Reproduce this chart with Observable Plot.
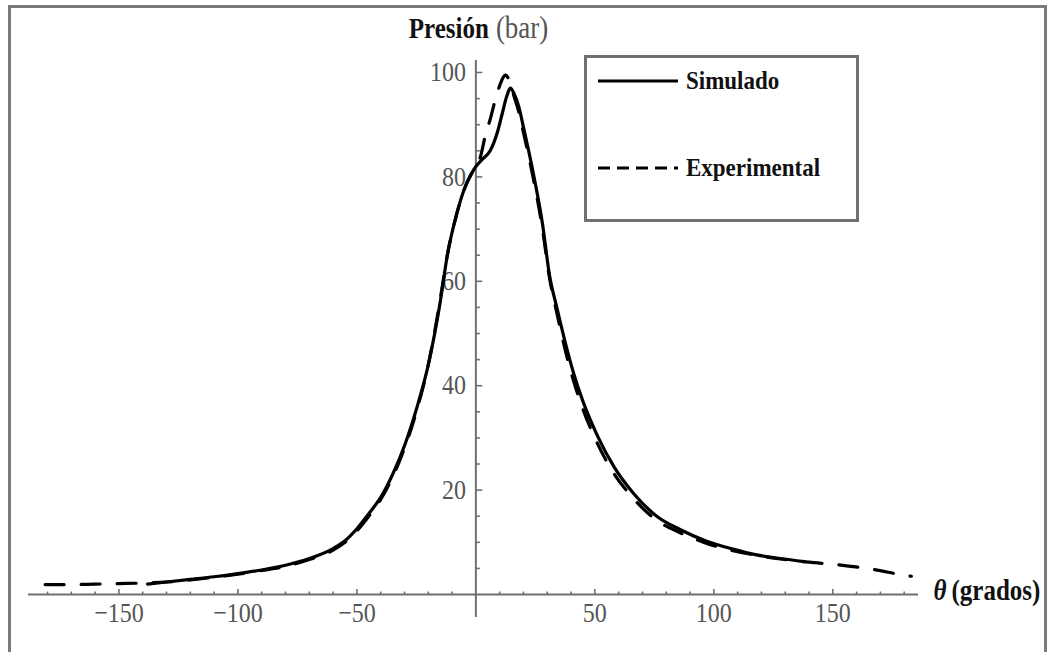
<!DOCTYPE html>
<html><head><meta charset="utf-8">
<script src="https://cdn.jsdelivr.net/npm/d3@7"></script>
<script src="https://cdn.jsdelivr.net/npm/@observablehq/plot@0.6"></script>
<style>
body{margin:0;width:1048px;height:652px;overflow:hidden;background:#fff;position:relative;font-family:"Liberation Serif",serif}
#chart{position:absolute;left:0;top:0}
#frame{position:absolute;left:8px;top:5px;width:1033px;height:700px;border:3px solid #7b7b7b;border-bottom:none;pointer-events:none}
#legend{position:absolute;left:584px;top:55px}
</style></head><body>
<div id="chart"></div>
<div id="frame"></div>
<svg id="legend" width="280" height="170"></svg>
<script>
// Simulado (solid)
const simX = [-138,-130,-120,-110,-100,-90,-80,-70,-60,-55,-50,-45,-40,-35,-30,-25,-20,-15,-12,-8,-5,-2,0,3,6,9,11,13,14.5,16,18,20,24,28,31,34,38,41,45,51,58,66,76,86,97,108,118,128,138];
const simY = [2.0,2.4,2.9,3.4,4.0,4.7,5.6,6.9,8.8,10.3,12.6,15.5,18.6,23,28.5,35.5,44,56,65,73,77.5,80.5,82,83.5,85,88.5,92,95.5,97,96,93.5,89.5,81,71,61,55,47.5,42.5,37,30.5,24.5,19.5,15,12.4,10.2,8.7,7.6,6.9,6.3];
// Experimental (dashed)
const expX = [-181,-170,-160,-150,-140,-130,-120,-110,-100,-90,-80,-70,-60,-55,-50,-45,-40,-35,-30,-25,-20,-15,-12,-8,-5,-2,0,2,4,6,8,10,12.5,14,16,18,20,24,28,31,34,38,41,45,51,58,66,76,86,97,108,118,128,140,152,167,180,183];
const expY = [1.9,1.9,2.0,2.1,2.2,2.4,2.8,3.3,3.9,4.6,5.4,6.7,8.5,10,12.2,15,18.2,22.5,28,35,44,56.5,65,73,77.5,80.5,82,84,88,91,94.5,97.5,99.5,98.5,95.5,92.5,88.5,80,70,60.5,54,46,41,35.5,29,23.2,18.5,14.2,11.8,9.8,8.4,7.5,6.8,6.2,5.7,4.8,3.7,3.5];
// Axes
const xTicks = [-150,-100,-50,50,100,150];
const xTickLabels = ["−150","−100","−50","50","100","150"];
const xMinor = [-180,-170,-160,-140,-130,-120,-110,-90,-80,-70,-60,-40,-30,-20,-10,10,20,30,40,60,70,80,90,110,120,130,140,160,170,180];
const yTicks = [20,40,60,80,100];
const yTickLabels = ["20","40","60","80","100"];
const yMinor = [5,10,15,25,30,35,45,50,55,65,70,75,85,90,95];
const xDomain = [-188,186];
const yDomain = [-4.4,102.3];
const seriesNames = ["Simulado","Experimental"];

const sim = simX.map((x,i)=>({x, y: simY[i]}));
const exp = expX.map((x,i)=>({x, y: expY[i]}));
const axisColor = "#707070";
const labelColor = "#555";
const F = "Liberation Serif";

const chart = Plot.plot({
  width: 1048, height: 652,
  marginLeft: 28, marginRight: 130, marginTop: 60, marginBottom: 35,
  x: {domain: xDomain, axis: null},
  y: {domain: yDomain, axis: null},
  style: {background: "transparent", fontFamily: F, overflow: "visible"},
  marks: [
    Plot.ruleY([0], {stroke: axisColor, strokeWidth: 2}),
    Plot.ruleX([0], {stroke: axisColor, strokeWidth: 2}),
    Plot.ruleX(xTicks, {x: d=>d, y1: ()=>0, y2: ()=>0, insetBottom: 5, stroke: axisColor, strokeWidth: 1.6}),
    Plot.ruleX(xMinor, {x: d=>d, y1: ()=>0, y2: ()=>0, insetBottom: 2.5, stroke: axisColor, strokeWidth: 1.6}),
    Plot.ruleY(yTicks, {y: d=>d, x1: ()=>0, x2: ()=>0, insetRight: -7, stroke: axisColor, strokeWidth: 1.6}),
    Plot.ruleY(yMinor, {y: d=>d, x1: ()=>0, x2: ()=>0, insetRight: -4.5, stroke: axisColor, strokeWidth: 1.6}),
    Plot.text(xTicks, {x: d=>d, y: ()=>0, text: (d,i)=>xTickLabels[i], dy: 19, fontSize: 24, fill: labelColor, fontFamily: F}),
    Plot.text(yTicks, {x: ()=>0, y: d=>d, text: (d,i)=>yTickLabels[i], dx: -10, textAnchor: "end", fontSize: 24, fill: labelColor, fontFamily: F}),
    Plot.line(exp, {x: "x", y: "y", stroke: "black", strokeWidth: 3.2, strokeDasharray: "19,17", curve: "monotone-x"}),
    Plot.line(sim, {x: "x", y: "y", stroke: "black", strokeWidth: 3.2, curve: "monotone-x"}),
    Plot.text(["Presión"], {x: ()=>0, frameAnchor: "top", dx: 13, dy: -23, textAnchor: "end", lineAnchor: "bottom", fontWeight: "bold", fontSize: 25, fill: "#111", fontFamily: F}),
    Plot.text(["(bar)"], {x: ()=>0, frameAnchor: "top", dx: 20, dy: -23, textAnchor: "start", lineAnchor: "bottom", fontSize: 27, fill: "#555", fontFamily: F}),
    Plot.text(["θ"], {y: ()=>0, frameAnchor: "right", dx: 15, dy: 5, textAnchor: "start", lineAnchor: "bottom", fontWeight: "bold", fontStyle: "italic", fontSize: 25, fill: "#111", fontFamily: F}),
    Plot.text(["(grados)"], {y: ()=>0, frameAnchor: "right", dx: 33, dy: 5, textAnchor: "start", lineAnchor: "bottom", fontWeight: "bold", fontSize: 25, fill: "#111", fontFamily: F})
  ]
});
document.getElementById("chart").appendChild(chart);

// Stretch glyphs vertically (the reference's lettering is tall and narrow)
function stretch(el, k) {
  const t = el.getAttribute("transform");
  if (t) { el.setAttribute("transform", t + ` scale(1,${k})`); }
  else {
    const x = +el.getAttribute("x") || 0, y = +el.getAttribute("y") || 0;
    el.setAttribute("transform", `translate(${x},${y}) scale(1,${k}) translate(${-x},${-y})`);
  }
}
d3.select(chart).selectAll("text").each(function(){ stretch(this, 1.14); });

// Legend
const lg = d3.select("#legend");
lg.append("rect").attr("x",1.5).attr("y",1.5).attr("width",272).attr("height",164).attr("fill","white").attr("stroke","#707070").attr("stroke-width",3);
const rows = [{name: seriesNames[0], dash: null, y: 26}, {name: seriesNames[1], dash: "12,7", y: 113}];
rows.forEach(r => {
  lg.append("line").attr("x1",14).attr("x2",94).attr("y1",r.y).attr("y2",r.y).attr("stroke","black").attr("stroke-width",3.2).attr("stroke-dasharray", r.dash);
  const t = lg.append("text").attr("x",102).attr("y",r.y+8).attr("font-family",F).attr("font-weight","bold").attr("font-size",23).attr("fill","#111").text(r.name);
  stretch(t.node(), 1.14);
});
</script>
</body></html>
